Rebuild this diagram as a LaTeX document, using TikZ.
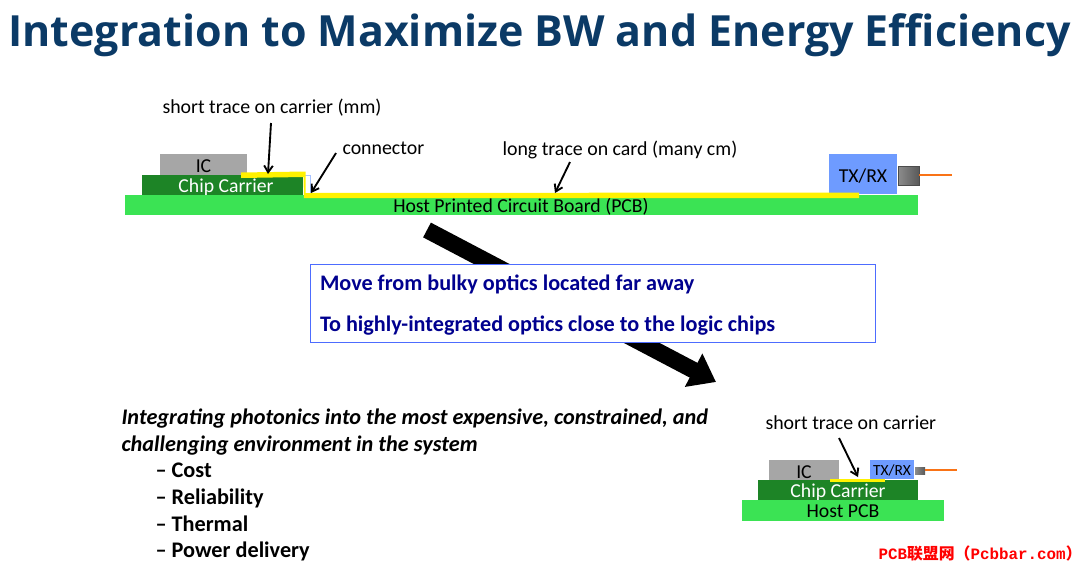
\documentclass[tikz,border=0pt]{standalone}
\usepackage{fontspec}
\setmainfont{Carlito}
\newfontfamily\titlefont{Open Sans}
\newfontfamily\markfont{Liberation Mono}
\newfontfamily\markcjk{Noto Sans CJK SC}
\usetikzlibrary{arrows.meta}
\definecolor{titleblue}{HTML}{0B3A66}
\definecolor{boardgreen}{HTML}{3BE354}
\definecolor{carriergreen}{HTML}{1D8426}
\definecolor{chipgray}{HTML}{A6A6A6}
\definecolor{moduleblue}{HTML}{6E9BFF}
\definecolor{noteblue}{HTML}{00008F}
\definecolor{fiberorange}{HTML}{F97316}
\tikzset{
  label/.style={inner sep=0pt,anchor=base west,font=\fontsize{14.9}{16}\selectfont},
  part/.style={inner sep=0pt,anchor=base,font=\fontsize{14.8}{16}\selectfont},
  callout/.style={black,line width=1.4pt,-{Straight Barb[length=5pt,width=6.5pt]}},
  lead/.style={inner sep=0pt,anchor=base west,font=\fontsize{16.7}{18}\bfseries\itshape\selectfont},
  item/.style={inner sep=0pt,anchor=base west,font=\fontsize{16.7}{18}\bfseries\selectfont},
  note/.style={inner sep=0pt,anchor=base west,text=noteblue,font=\fontsize{16.65}{18}\bfseries\selectfont}
}
\begin{document}
\begin{tikzpicture}[x=.75pt,y=-.75pt,line width=.75pt]
  \useasboundingbox (0,0) rectangle (1080,568);
  \fill[white] (0,0) rectangle (1080,568);

  \node[inner sep=0pt,anchor=base west,text=titleblue,font=\titlefont\fontsize{32.2}{36}\bfseries\selectfont] (title) at (8,46) {Integration to Maximize BW and Energy Efficiency};

  % large arrow runs behind the note
  \coordinate (flowstart) at (427,230);
  \coordinate (flowend) at (716,382);
  \draw[line width=12.5pt,-{Triangle[length=19pt,width=27pt]}] (flowstart) -- (flowend);

  % card with long traces
  \fill[chipgray] (160,154) rectangle (247,175);
  \node[part] (ic) at (203.5,172) {IC};
  \fill[white,draw=moduleblue!60,line width=.5pt] (142,175) rectangle (310,195);
  \fill[carriergreen] (142,175) rectangle (303,195);
  \node[part,text=white] (carrier) at (226,192) {Chip Carrier};
  \fill[boardgreen] (125,195) rectangle (918,215);
  \node[part] (board) at (521,212) {Host Printed Circuit Board (PCB)};
  \fill[moduleblue] (829,154) rectangle (897,194);
  \node[part] (module) at (863,182) {TX/RX};
  \fill[yellow] (241,172.5) -- (305.5,171.5) -- (305.5,193) -- (859,192.5) -- (859,198) -- (304,198) -- (303.5,177) -- (241,178) -- cycle;
  \draw[left color=gray!90,right color=gray!70!black,draw=black!70] (898,166) rectangle (919,185);
  \coordinate (fiberin) at (919,175);
  \coordinate (fiberout) at (952,175);
  \draw[fiberorange,line width=2pt] (fiberin) -- (fiberout);

  \node[label] (shorttrace) at (162,113) {short trace on carrier (mm)};
  \node[label] (connector) at (342,154) {connector};
  \node[label] (longtrace) at (502,155) {long trace on card (many cm)};
  \coordinate (shortfrom) at (271,123);
  \coordinate (shortto) at (268,174);
  \coordinate (connfrom) at (336,153);
  \coordinate (connto) at (311,193);
  \coordinate (longfrom) at (570,162);
  \coordinate (longto) at (555,193);
  \draw[callout] (shortfrom) -- (shortto);
  \draw[callout] (connfrom) -- (connto);
  \draw[callout] (longfrom) -- (longto);

  % note over the arrow
  \node[draw=moduleblue!70!blue,fill=white,line width=.6pt,inner sep=0pt,minimum width=423.75pt,minimum height=58.5pt] (notebox) at (592.5,303) {};
  \node[note] (notetop) at (319.5,290) {Move from bulky optics located far away};
  \node[note] (notebottom) at (319.5,331) {To highly-integrated optics close to the logic chips};

  \node[lead] (leadtop) at (121,424) {Integrating photonics into the most expensive, constrained, and};
  \node[lead] (leadbottom) at (121,451) {challenging environment in the system};
  \foreach \y/\t in {477/Cost,504/Reliability,531/Thermal,557/Power delivery} {
    \node[item] (item\y) at (155,\y) {\textendash\ \t};
  }

  % integrated stack
  \fill[chipgray] (769,460) rectangle (839,480);
  \node[part] (smallic) at (804,478) {IC};
  \fill[moduleblue] (870,460) rectangle (914,479);
  \node[part,font=\fontsize{11.6}{12}\selectfont] (smallmodule) at (892,475.5) {TX/RX};
  \fill[carriergreen] (758,480) rectangle (918,500);
  \node[part,text=white] (smallcarrier) at (838,497) {Chip Carrier};
  \fill[boardgreen] (742,500) rectangle (944,520.5);
  \node[part] (smallboard) at (843,517) {Host PCB};
  \fill[yellow] (830,479) rectangle (885,481.5);
  \draw[left color=gray!90,right color=gray!70!black,draw=none] (915,467) rectangle (925,474);
  \coordinate (smallfiberin) at (925,470);
  \coordinate (smallfiberout) at (957,470);
  \draw[fiberorange,line width=2pt] (smallfiberin) -- (smallfiberout);

  \node[label] (smalltrace) at (765,429) {short trace on carrier};
  \coordinate (smallfrom) at (839,438);
  \coordinate (smallto) at (858,477);
  \draw[callout] (smallfrom) -- (smallto);

  \node[inner sep=0pt,anchor=base west,text=red,font=\fontsize{11.9}{15}\bfseries\selectfont] (watermark) at (878,559) {\markfont PCB{\markcjk 联盟网（}Pcbbar.com{\markcjk ）}};
\end{tikzpicture}
\end{document}
